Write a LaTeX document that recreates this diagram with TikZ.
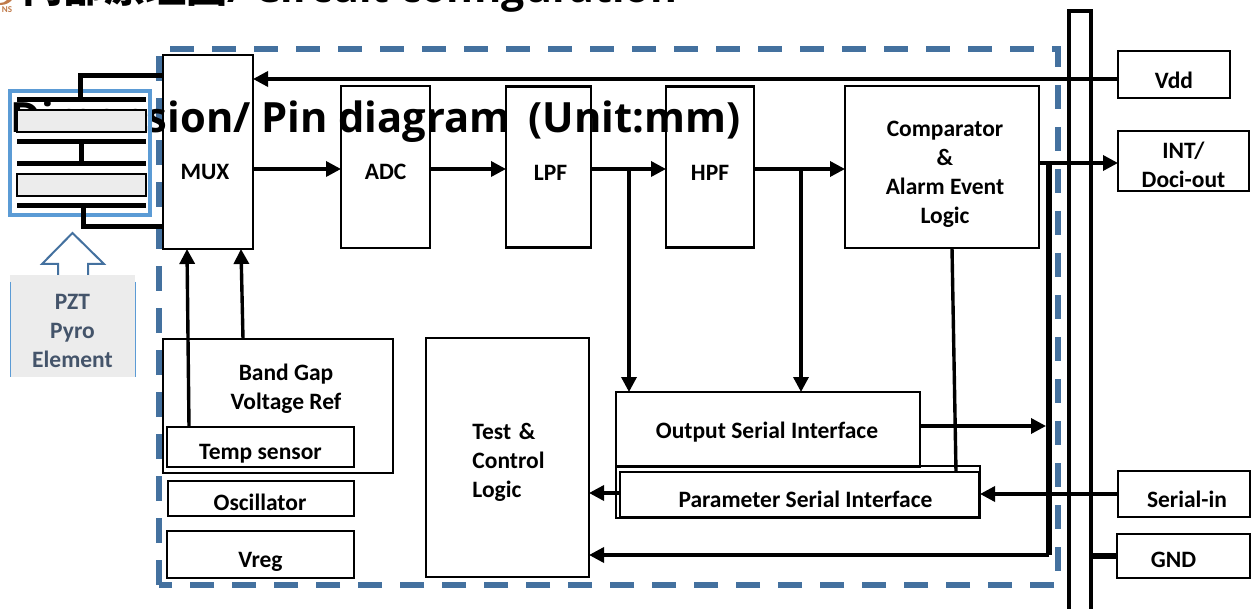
\documentclass[tikz,border=0pt]{standalone}
\usepackage{fontspec}
\setmainfont{Carlito}
\newfontfamily\headfont{Open Sans}
\newfontfamily\cjkfont{Noto Sans CJK SC}
\usetikzlibrary{arrows.meta, positioning, shapes.geometric}
\definecolor{dashblue}{HTML}{44719F}
\definecolor{pyroblue}{HTML}{5B9BD5}
\definecolor{pyrogrey}{HTML}{ECECEC}
\definecolor{pyrotext}{HTML}{44546A}
\definecolor{logobrown}{HTML}{C07A4A}

\begin{document}
\begin{tikzpicture}[
    x=1pt, y=-1pt,
    every node/.style={font=\fontsize{23.5}{29}\selectfont\bfseries},
    blockbox/.style={rectangle, draw, line width=2.4pt, align=center, outer sep=0pt, inner sep=0pt},
    tagged/.style n args={3}{label={[inner sep=0pt, align=center, xshift=#1pt, yshift=#2pt]center:#3}},
    heading/.style={font=\fontsize{#1}{50}\selectfont\bfseries\headfont, anchor=base west, inner sep=0pt},
    arrow/.style={-{Triangle[length=15pt,width=15pt]}, line width=3.4pt},
    wire/.style={line width=3.4pt},
    pyrobar/.style={line width=5pt},
    pyrocell/.style={rectangle, draw, fill=pyrogrey, line width=2pt, minimum width=129pt, minimum height=22pt, outer sep=0pt},
    region/.style={draw=dashblue, line width=6pt}
]
\useasboundingbox (0,0) rectangle (1252,609);

% Title lines
\coordinate (regionA) at (170,49);
\coordinate (regionB) at (1058,49);
\coordinate (regionC) at (1058,585);
\coordinate (regionD) at (159,585);
\coordinate (regionE) at (159,56);
\draw[region, dash pattern=on 24pt off 18pt] (regionA) -- (regionB) -- (regionC) -- (regionD);
\draw[region, dash pattern=on 25pt off 17pt] (regionD) -- (regionE);

\node[heading=41] (title) at (22,3) {{\cjkfont 内部原理图}/ Circuit configuration};
\node[heading=41.7] (dimension) at (10,132.5) {Dimension/ Pin diagram\, (Unit:mm)};
\fill[logobrown] (0,5) .. controls (6,5) and (9,3) .. (12,0) -- (7,0) .. controls (5,2) and (3,3) .. (0,3) -- cycle;
\node[font=\fontsize{9}{9}\selectfont\bfseries, text=logobrown, inner sep=0pt] (logo) at (7,9.5) {NS};

% Signal chain
\node[blockbox, minimum width=90pt, minimum height=194pt, tagged={-3}{-20}{MUX}] (mux) at (208,152) {};
\node[blockbox, minimum width=89pt, minimum height=162pt, right=88pt of mux, yshift=-15pt, tagged={0}{-5}{ADC}] (adc) {};
\node[blockbox, minimum width=85pt, minimum height=161pt, right=76pt of adc, tagged={2}{-6}{LPF}] (lpf) {};
\node[blockbox, minimum width=88pt, minimum height=161pt, right=75pt of lpf, tagged={0}{-6}{HPF}] (hpf) {};
\node[blockbox, minimum width=194pt, minimum height=162pt, right=91pt of hpf, tagged={3}{-7}{Comparator\\\&\\Alarm Event\\Logic}] (comp) {};

% Lower blocks
\node[blockbox, minimum width=230pt, minimum height=134pt, tagged={8}{17}{Band Gap\\Voltage Ref}] (bandgap) at (278,406) {};
\node[blockbox, minimum width=187pt, minimum height=40pt, tagged={0}{-7}{Temp sensor}] (temp) at (260.5,447) {};
\node[blockbox, minimum width=186pt, minimum height=35pt, below=14pt of temp, xshift=0.5pt, tagged={-1}{-4}{Oscillator}] (osc) {};
\node[blockbox, minimum width=187pt, minimum height=47pt, below=15pt of osc, xshift=-0.5pt, tagged={0}{-7}{Vreg}] (vreg) {};
\node[blockbox, minimum width=163pt, minimum height=239pt, label={[inner sep=0pt, align=left, xshift=1pt, yshift=-5pt]center:Test\,\,\&\\Control\\Logic}] (test) at (507.5,457.5) {};
\node[blockbox, minimum width=304pt, minimum height=75pt, tagged={-1}{-3}{Output Serial Interface}] (output) at (768,429.5) {};
\node[blockbox, minimum width=364pt, minimum height=52pt] (paramouter) at (798,492) {};
\node[blockbox, minimum width=359pt, minimum height=45pt, tagged={6}{-5}{Parameter Serial Interface}] (param) at (799.5,494.5) {};

% Pins
\node[blockbox, minimum width=112pt, minimum height=47pt, tagged={0}{-6}{Vdd}] (vdd) at (1174,74.5) {};
\node[blockbox, minimum width=131pt, minimum height=60pt, tagged={0}{-4}{INT/\\Doci-out}] (int) at (1183.5,161) {};
\node[blockbox, minimum width=132pt, minimum height=46pt, tagged={3}{-5}{Serial-in}] (serial) at (1184,494) {};
\node[blockbox, minimum width=133pt, minimum height=44pt, tagged={-10}{-4}{GND}] (gnd) at (1183.5,556) {};

% Bus rails
\coordinate (busLtop) at (1069,11);
\coordinate (busRtop) at (1091,11);
\coordinate (busLend) at (1069,609);
\coordinate (busRend) at (1091,609);
\draw[line width=4pt] (busLend) -- (busLtop) -- (busRtop) -- (busRend);

% Pyro element
\node[draw=pyroblue, line width=4pt, minimum width=140pt, minimum height=124pt, outer sep=0pt] (pyro) at (80,153) {};
\coordinate (barAl) at (17,100); \coordinate (barAr) at (146,100);
\coordinate (barBl) at (17,142); \coordinate (barBr) at (146,142);
\coordinate (barCl) at (17,164); \coordinate (barCr) at (146,164);
\coordinate (barDl) at (17,206); \coordinate (barDr) at (146,206);
\foreach \barname in {A,B,C,D}
    \draw[pyrobar] (bar\barname l) -- (bar\barname r);
\node[pyrocell] (cellA) at (81.5,121) {};
\node[pyrocell] (cellB) at (81.5,185.5) {};
\coordinate (pyrotop) at (80,100);
\coordinate (pyrotopm) at (80,76);
\coordinate (pyrobot) at (83,206);
\coordinate (pyrobotm) at (83,227);
\coordinate (midB) at (81,142);
\coordinate (midC) at (81,164);
\draw[pyrobar] (midB) -- (midC);
\draw[pyrobar] (pyrotop) -- (pyrotopm) -- (mux.west |- pyrotopm);
\draw[pyrobar] (pyrobot) -- (pyrobotm) -- (mux.west |- pyrobotm);

% Hollow arrow above the element label
\draw[dashblue, line width=2pt] (58,275) -- (58,264) -- (42,264) -- (72.5,233) -- (104,264) -- (88,264) -- (88,275);
\node[fill=pyrogrey, minimum width=125pt, minimum height=102pt, inner sep=0pt, outer sep=0pt, label={[inner sep=0pt, align=center, text=pyrotext, yshift=-5pt]center:PZT\\Pyro\\Element}] (pzt) at (72.5,326) {};
\draw[pyroblue, line width=1pt] (pzt.north west) ++(0,7) -- (pzt.south west);
\draw[pyroblue, line width=1pt] (pzt.north east) ++(0,7) -- (pzt.south east);

% Arrows
\coordinate (sigrow) at (0,169);
\coordinate (introw) at (0,163);
\coordinate (vddrow) at (0,79);
\coordinate (lpftap) at (629,169);
\coordinate (hpftap) at (801,169);
\coordinate (coltrunk) at (1049,163);
\coordinate (coltrunkend) at (1049,555);
\draw[arrow] (vdd.west |- vddrow) -- (mux.east |- vddrow);
\draw[arrow] (mux.east |- sigrow) -- (adc.west |- sigrow);
\draw[arrow] (adc.east |- sigrow) -- (lpf.west |- sigrow);
\draw[arrow] (lpf.east |- sigrow) -- (hpf.west |- sigrow);
\draw[arrow] (hpf.east |- sigrow) -- (comp.west |- sigrow);
\draw[arrow] (comp.east |- introw) -- (int.west |- introw);
\draw[arrow] (lpftap) -- (output.north -| lpftap);
\draw[arrow] (hpftap) -- (output.north -| hpftap);
\draw[line width=5.5pt] (coltrunk) -- (coltrunkend);
\draw[arrow] (coltrunkend) -- (test.east |- coltrunkend);
\coordinate (outrow) at (1046,426);
\draw[arrow] (output.east |- outrow) -- (outrow);
\coordinate (compdrop) at (952,248);
\coordinate (paramdrop) at (956,472);
\draw[wire] (compdrop) -- (paramdrop);
\coordinate (paramrow) at (0,493);
\draw[arrow] (param.west |- paramrow) -- (test.east |- paramrow);
\draw[arrow] (serial.west) -- (paramouter.east |- serial.west);
\draw[line width=6pt] (busRend |- gnd.west) -- (gnd.west);
\coordinate (tempup) at (189,427);
\coordinate (muxin) at (187,249);
\coordinate (bandup) at (243,339);
\coordinate (muxinb) at (241,249);
\draw[arrow] (tempup) -- (muxin);
\draw[arrow] (bandup) -- (muxinb);

\end{tikzpicture}
\end{document}
